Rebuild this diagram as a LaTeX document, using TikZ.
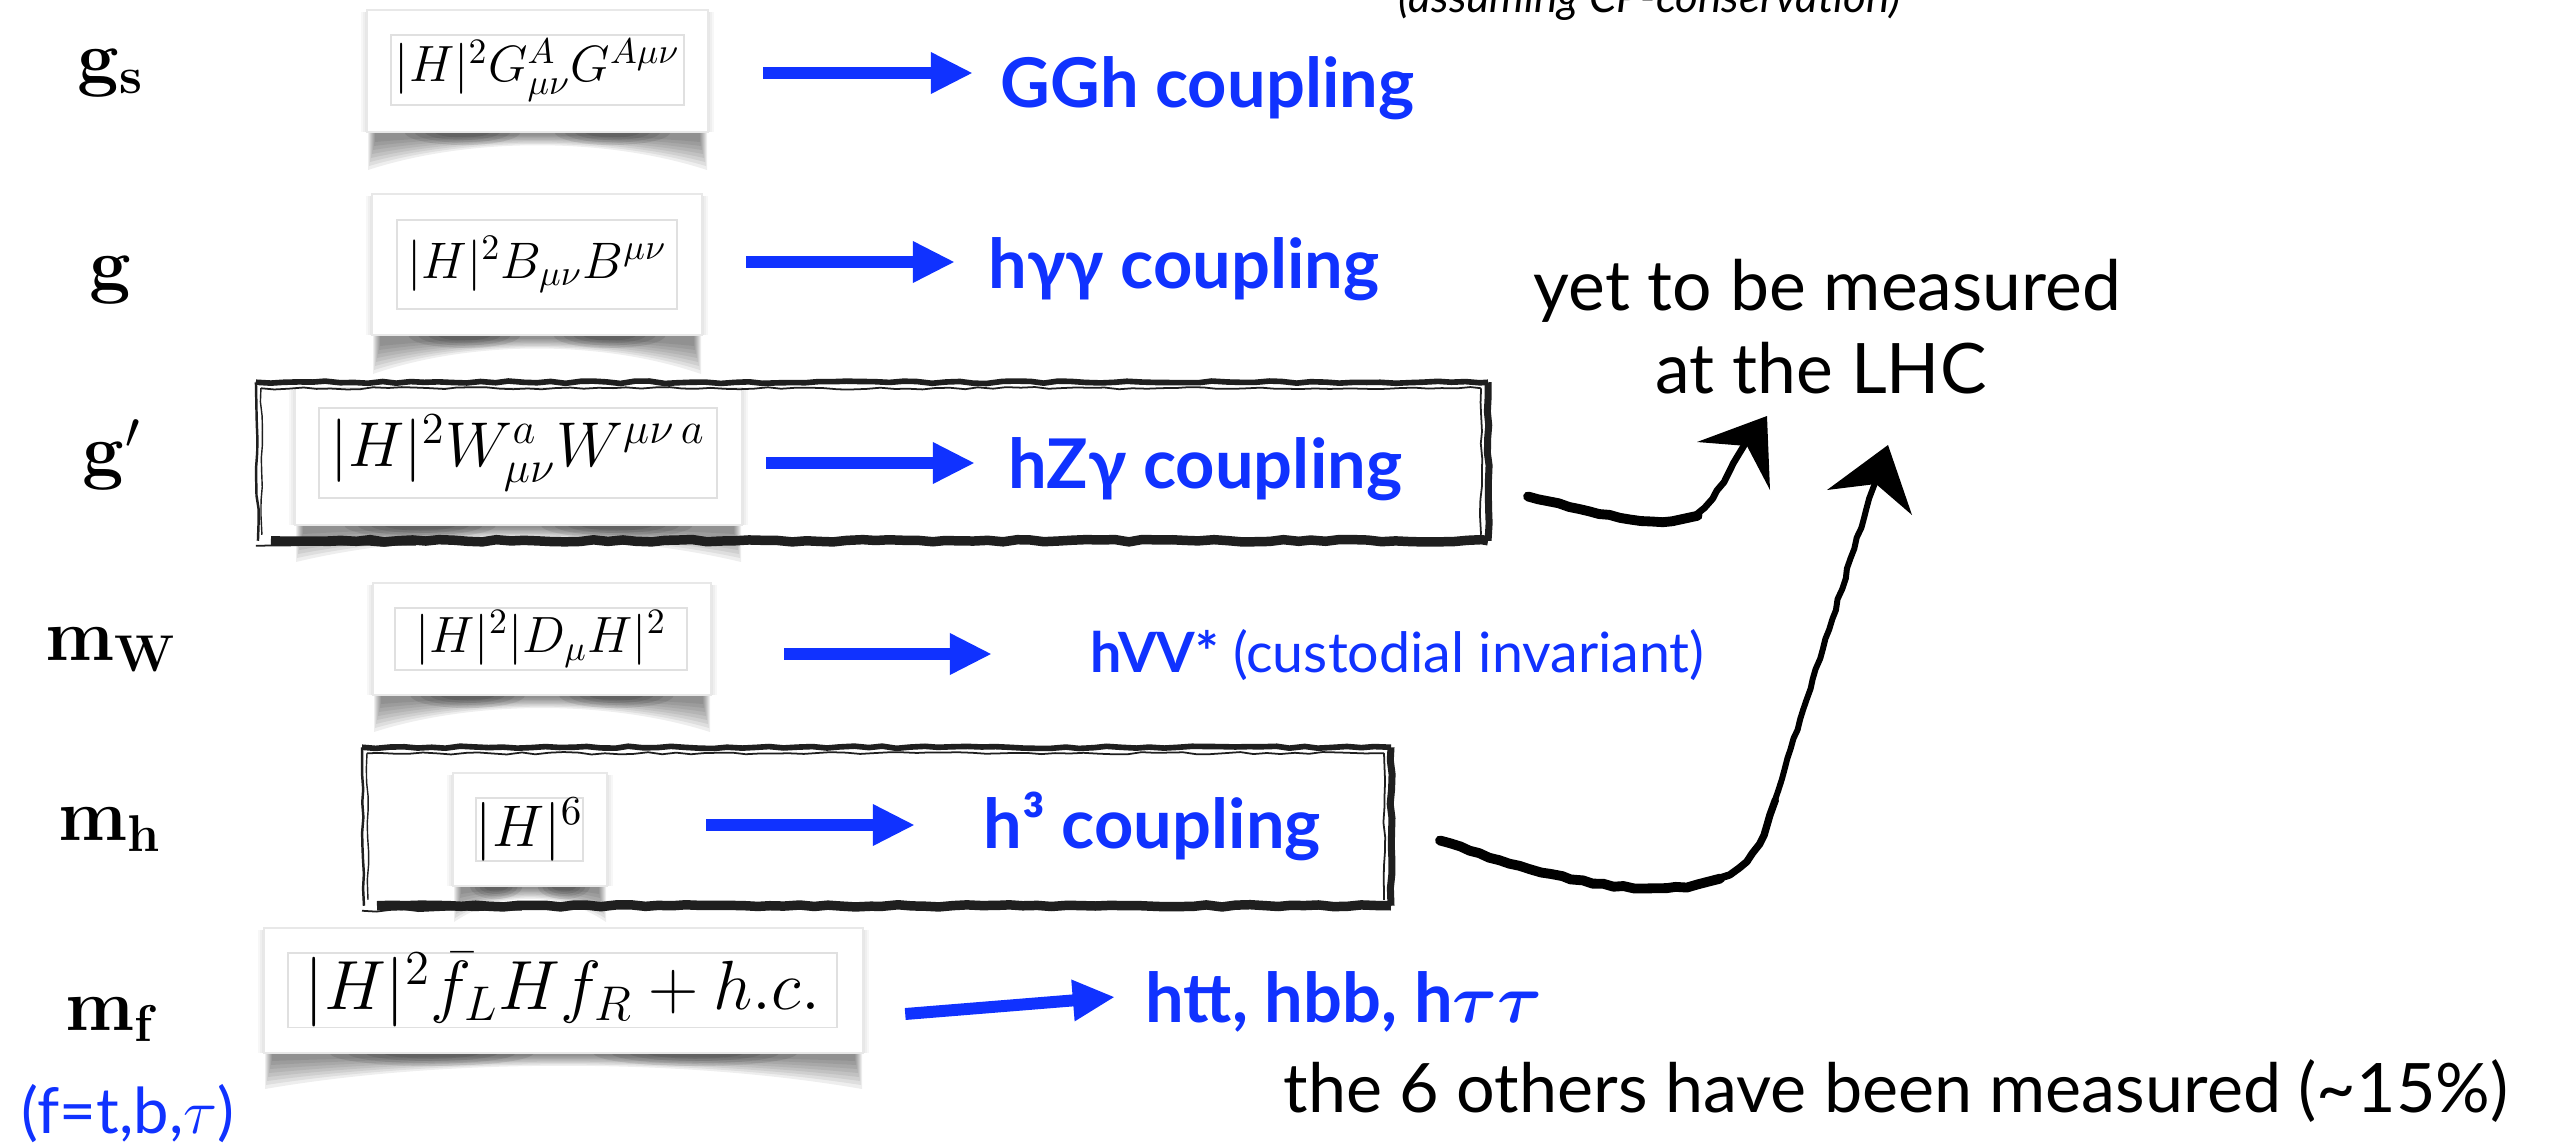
\RequirePackage{fix-cm}
\documentclass[tikz,border=0pt]{standalone}
\usepackage[no-math]{fontspec}
\setmainfont{Lato}
\usepackage{bm}
\usetikzlibrary{arrows.meta,calc,decorations.pathmorphing}
\definecolor{kblue}{RGB}{16,50,255}

% soft curled shadow of a card: left, right, top, bottom, depth
\newcommand{\cardshade}[5]{%
  \foreach \k in {1,2,3}{%
    \fill[black,opacity=0.03] ({#1-2*\k},{#3+2}) rectangle ({#2+2*\k},{#4});
  }%
  \foreach \k in {0,...,7}{%
    \fill[black,opacity=0.065]
      ({#1+1+\k},{#4}) -- ({#1+1+\k},{#4+#5-4*\k})
      .. controls ({#1+0.3*(#2-#1)},{#4+5-0.5*\k}) and ({#2-0.3*(#2-#1)},{#4+5-0.5*\k})
      .. ({#2-1-\k},{#4+#5-4*\k}) -- ({#2-1-\k},{#4}) -- cycle;
  }%
  \foreach \j in {0,...,3}{%
    \fill[black,opacity=0.09] ({#1+0.28*(#2-#1)},{#4})
      ellipse [x radius={(0.17-0.03*\j)*(#2-#1)}, y radius={13-2.5*\j}];
    \fill[black,opacity=0.09] ({#2-0.28*(#2-#1)},{#4})
      ellipse [x radius={(0.17-0.03*\j)*(#2-#1)}, y radius={13-2.5*\j}];
  }%
}

% hand-drawn frame around a node
\newcommand{\roughframe}[1]{%
  \draw[rough,line width=1.6pt] (#1.north west) -- (#1.north east);
  \draw[rough,line width=0.5pt] ($(#1.north west)+(5,6)$) -- ($(#1.north east)+(-7,6)$);
  \draw[rough,line width=2.7pt] ($(#1.south west)+(15,0)$) -- (#1.south east);
  \draw[rough,line width=0.5pt] ($(#1.south west)+(0,5)$) -- ($(#1.south west)+(160,4)$);
  \draw[rough,line width=2pt] (#1.north east) -- (#1.south east);
  \draw[rough,line width=0.5pt] ($(#1.north east)+(-7,6)$) -- ($(#1.south east)+(-7,-6)$);
  \draw[rough,line width=0.7pt] (#1.north west) -- ($(#1.south west)+(2,0)$);
  \draw[rough,line width=0.4pt] ($(#1.north west)+(5,6)$) -- ($(#1.south west)+(6,-6)$);
}

\begin{document}
\begin{tikzpicture}[x=0.01cm,y=-0.01cm,
  card/.style={fill=white,draw=black!9,line width=0.6pt,inner sep=0pt},
  formula/.style={fill=white,draw=black!12,line width=0.5pt,inner sep=0pt},
  coup/.style={anchor=base west,inner sep=0pt},
  blab/.style={text=kblue,anchor=base west,inner sep=0pt,
    font=\fontsize{19.5pt}{22pt}\selectfont\bfseries},
  btext/.style={anchor=base west,inner sep=0pt,
    font=\fontsize{19.8pt}{22pt}\selectfont},
  barrow/.style={draw=kblue,line width=3.4pt,-{Triangle[length=12pt,width=11pt]}},
  rough/.style={black!88,decorate,decoration={random steps,segment length=4pt,amplitude=0.35pt}},
  brush/.style={black,line cap=round,line join=round,decorate,
    decoration={random steps,segment length=3pt,amplitude=0.3pt}},
  frame/.style={draw=none,inner sep=0pt}]

\useasboundingbox (0,0) rectangle (2562,1148);
\clip (0,0) rectangle (2562,1148);
\fill[white] (0,0) rectangle (2562,1148);

% shadows of the cards
\cardshade{367}{708}{10}{132}{38}
\cardshade{372}{702}{194}{335}{39}
\cardshade{295}{742}{388}{525}{37}
\cardshade{373}{711}{583}{695}{37}
\cardshade{453}{607}{773}{886}{36}
\cardshade{264}{863}{928}{1053}{36}

% cards
\node[card,minimum width=3.41cm,minimum height=1.22cm] (c1) at (537.5,71) {};
\node[card,minimum width=3.30cm,minimum height=1.41cm] (c2) at (537,264.5) {};
\node[card,minimum width=4.47cm,minimum height=1.37cm] (c3) at (518.5,456.5) {};
\node[card,minimum width=3.38cm,minimum height=1.12cm] (c4) at (542,639) {};
\node[card,minimum width=1.54cm,minimum height=1.13cm] (c5) at (530,829.5) {};
\node[card,minimum width=5.99cm,minimum height=1.25cm] (c6) at (563.5,990.5) {};

% operators
\node[formula,minimum width=2.93cm,minimum height=0.70cm] (f1) at (537.5,70)
  {\fontsize{14.5pt}{16pt}\selectfont$|H|^2G^A_{\mu\nu}G^{A\mu\nu}$};
\node[formula,minimum width=2.80cm,minimum height=0.89cm] (f2) at (537,264.5)
  {\fontsize{14.6pt}{17pt}\selectfont$|H|^2B_{\mu\nu}B^{\mu\nu}$};
\node[formula,minimum width=3.98cm,minimum height=0.90cm] (f3) at (518,453)
  {\fontsize{18pt}{21pt}\selectfont$|H|^2W^a_{\mu\nu}W^{\mu\nu\,a}$};
\node[formula,minimum width=2.92cm,minimum height=0.62cm] (f4) at (541,639)
  {\fontsize{14.5pt}{16pt}\selectfont$|H|^2|D_\mu H|^2$};
\node[formula,minimum width=1.05cm,minimum height=0.61cm] (f5) at (529.5,829.5)
  {\fontsize{16.7pt}{19pt}\selectfont$|H|^6$};
\node[formula,minimum width=5.49cm,minimum height=0.74cm] (f6) at (562.5,990)
  {\fontsize{19.8pt}{22pt}\selectfont$|H|^2\bar f_L H f_R + h.c.$};

% couplings
\node[coup] (lgs) at (77,82) {\fontsize{21pt}{24pt}\selectfont$\mathbf{g_s}$};
\node[coup] (lg) at (89,289) {\fontsize{21pt}{24pt}\selectfont$\mathbf{g}$};
\node[coup] (lgp) at (82,475) {\fontsize{21pt}{24pt}\selectfont$\mathbf{g}'$};
\node[coup] (lmw) at (45,660) {\fontsize{21pt}{24pt}\selectfont$\mathbf{m_W}$};
\node[coup] (lmh) at (58,840) {\fontsize{21pt}{24pt}\selectfont$\mathbf{m_h}$};
\node[coup] (lmf) at (65,1030) {\fontsize{21pt}{24pt}\selectfont$\mathbf{m_f}$};
\node[coup,text=kblue] (fl) at (21,1133) {\fontsize{18pt}{20pt}\selectfont(f=t,b,$\tau$)};

% Higgs couplings
\node[blab] (t1) at (1000,107) {GGh coupling};
\node[blab] (t2) at (988,288) {hγγ coupling};
\node[blab] (t3) at (1008,488) {hZγ coupling};
\node[coup,text=kblue] (t4) at (1090,672)
  {\fontsize{15.8pt}{18pt}\selectfont\textbf{hVV*} (custodial invariant)};
\node[blab] (t5) at (983,848) {h³ coupling};
\node[blab] (t6) at (1145,1022) {htt, hbb, h$\bm{\tau\tau}$};

% remarks
\node[coup] (cp) at (1398,12)
  {\fontsize{12.5pt}{14pt}\selectfont\itshape (assuming CP-conservation)};
\node[btext] (ym) at (1533,310) {yet to be measured};
\node[btext] (lhc) at (1655,393) {at the LHC};
\node[btext,font=\fontsize{19.4pt}{22pt}\selectfont] (oth) at (1283,1112)
  {the 6 others have been measured (\textasciitilde 15\%)};

% blue arrows
\draw[barrow] ($(c1.east)+(54,2)$) -- ($(t1.base west)+(-27,-34)$);
\draw[barrow] ($(c2.east)+(43,-2.5)$) -- ($(t2.base west)+(-33,-26)$);
\draw[barrow] ($(c3.east)+(23,6.5)$) -- ($(t3.base west)+(-33,-25)$);
\draw[barrow] ($(c4.east)+(72,15)$) -- ($(t4.base west)+(-98,-18)$);
\draw[barrow] ($(c5.east)+(98,-4.5)$) -- ($(t5.base west)+(-68,-23)$);
\draw[barrow] ($(c6.east)+(41,23.5)$) -- ($(t6.base west)+(-30,-25)$);

% hand-drawn frames
\node[frame,minimum width=12.30cm,minimum height=1.57cm] (box3) at (872,461.5) {};
\node[frame,minimum width=10.27cm,minimum height=1.57cm] (box5) at (876.5,826.5) {};
\roughframe{box3}
\roughframe{box5}

% hand-drawn arrows to the LHC remark
\coordinate (tipA) at ($(lhc.base west)+(112,23)$);
\coordinate (tipB) at ($(lhc.base west)+(233,52)$);
\coordinate (a0) at ($(box3.east)+(40,35)$);
\coordinate (a1) at (1697,514);
\coordinate (b0) at ($(box5.east)+(49,14)$);
\coordinate (b1) at (1720,878);
\coordinate (b2) at (1775,800);

\draw[brush,line width=2.8pt] (a0) .. controls (1600,514) and (1665,532) .. (a1);
\draw[brush,line width=1.9pt] (a1) .. controls (1715,500) and (1730,470) .. ($(tipA)+(-22,28)$);
\fill[black] ($(tipA)+(-70,26)$) -- (tipA) -- ($(tipA)+(3,74)$) -- ($(tipA)+(-20,30)$) -- cycle;

\draw[brush,line width=2.8pt] (b0) .. controls (1540,875) and (1650,905) .. (b1);
\draw[brush,line width=2.1pt] (b1) .. controls (1752,866) and (1764,840) .. (b2);
\draw[brush,line width=1.7pt] (b2) -- ($(tipB)+(-13,38)$);
\fill[black] ($(tipB)+(-61,45)$) -- (tipB) -- ($(tipB)+(24,70)$) -- ($(tipB)+(-12,39)$) -- cycle;

\end{tikzpicture}
\end{document}
